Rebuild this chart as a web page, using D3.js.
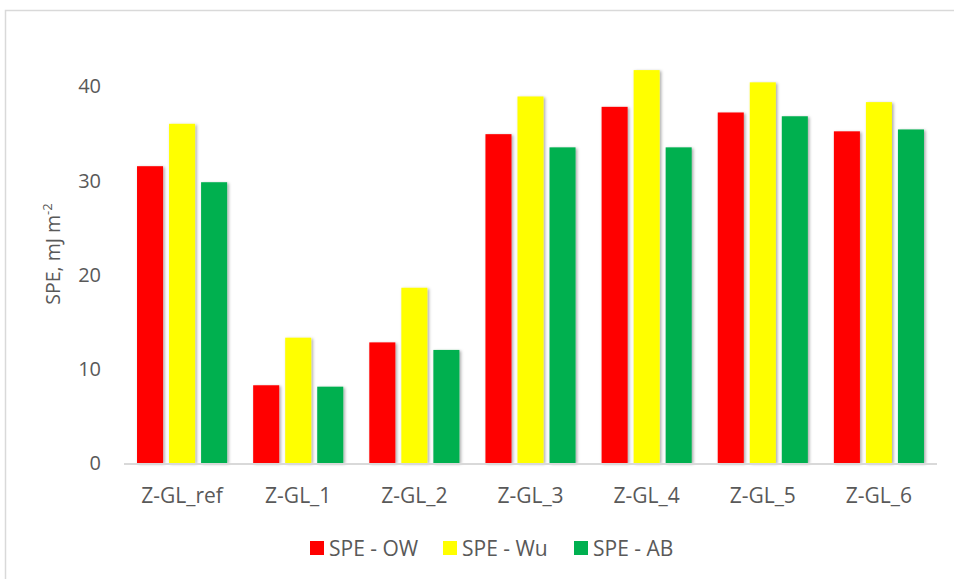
<!DOCTYPE html>
<html>
<head>
<meta charset="utf-8">
<script src="https://cdn.jsdelivr.net/npm/d3@7"></script>
<style>
  html, body { margin: 0; padding: 0; background: #fff; }
  svg { display: block; }
  text { font-family: "Open Sans", "Liberation Sans", sans-serif; fill: #595959; }
</style>
</head>
<body>
<svg id="chart" width="954" height="579"></svg>
<script>
const categories = ["Z-GL_ref", "Z-GL_1", "Z-GL_2", "Z-GL_3", "Z-GL_4", "Z-GL_5", "Z-GL_6"];
const seriesNames = ["SPE - OW", "SPE - Wu", "SPE - AB"];
const speOW = [31.5, 8.25, 12.8, 34.9, 37.8, 37.2, 35.2];
const speWu = [36.0, 13.3, 18.6, 38.9, 41.7, 40.4, 38.3];
const speAB = [29.8, 8.1, 12.0, 33.5, 33.5, 36.8, 35.4];
const seriesColors = ["#FF0000", "#FFFF00", "#00B050"];
const yTicks = [0, 10, 20, 30, 40];
const yMax = 45;
const yTitle = "SPE, mJ m";
const yTitleSup = "-2";

const seriesValues = [speOW, speWu, speAB];
const svg = d3.select("#chart");

// chart frame
svg.append("rect").attr("x", 5.5).attr("y", 10.5).attr("width", 960).attr("height", 600)
  .attr("fill", "#fff").attr("stroke", "#d9d9d9").attr("stroke-width", 1.5);

const defs = svg.append("defs");
const f = defs.append("filter").attr("id", "shadow").attr("x", "-30%").attr("y", "-10%").attr("width", "160%").attr("height", "120%");
f.append("feDropShadow").attr("dx", 1.5).attr("dy", 1).attr("stdDeviation", 1.8)
  .attr("flood-color", "#000").attr("flood-opacity", 0.35);

const plotLeft = 124, plotRight = 937, plotBottom = 463, plotTop = 39;

const x0 = d3.scaleBand().domain(categories).range([plotLeft, plotRight]).paddingInner(0).paddingOuter(0);
const x1 = d3.scaleBand().domain(seriesNames).range([0, x0.bandwidth()])
  .paddingInner(0.187).paddingOuter(0.4065);
const y = d3.scaleLinear().domain([0, yMax]).range([plotBottom, plotTop]);

// y tick labels
svg.append("g").selectAll("text").data(yTicks).join("text")
  .attr("x", 101).attr("y", d => y(d)).attr("dy", "0.36em")
  .attr("text-anchor", "end").attr("font-size", 20).text(d => d);

// bars
const groups = svg.append("g").selectAll("g").data(categories).join("g")
  .attr("transform", d => `translate(${x0(d)},0)`);
groups.selectAll("rect").data((c, i) => seriesNames.map((s, j) => ({ s, j, v: seriesValues[j][i] })))
  .join("rect")
  .attr("x", d => x1(d.s)).attr("width", x1.bandwidth())
  .attr("y", d => y(d.v)).attr("height", d => y(0) - y(d.v))
  .attr("fill", d => seriesColors[d.j])
  .attr("filter", "url(#shadow)");

// x axis line
svg.append("line").attr("x1", plotLeft).attr("x2", plotRight).attr("y1", plotBottom + 1).attr("y2", plotBottom + 1)
  .attr("stroke", "#d9d9d9").attr("stroke-width", 2);

// category labels
svg.append("g").selectAll("text").data(categories).join("text")
  .attr("x", d => x0(d) + x0.bandwidth() / 2).attr("y", 503)
  .attr("text-anchor", "middle").attr("font-size", 21).text(d => d);

// y title
const yt = svg.append("text").attr("transform", "translate(60,254) rotate(-90)")
  .attr("text-anchor", "middle").attr("font-size", 19.5);
yt.append("tspan").text(yTitle);
yt.append("tspan").attr("font-size", 13).attr("dy", "-0.6em").text(yTitleSup);

// legend
const legendX = [310, 443, 574];
const lg = svg.append("g").selectAll("g").data(seriesNames).join("g")
  .attr("transform", (d, i) => `translate(${legendX[i]},541)`);
lg.append("rect").attr("width", 14).attr("height", 14).attr("fill", (d, i) => seriesColors[i]);
lg.append("text").attr("x", 19).attr("y", 7).attr("dy", "0.36em").attr("font-size", 21).text(d => d);
</script>
</body>
</html>
